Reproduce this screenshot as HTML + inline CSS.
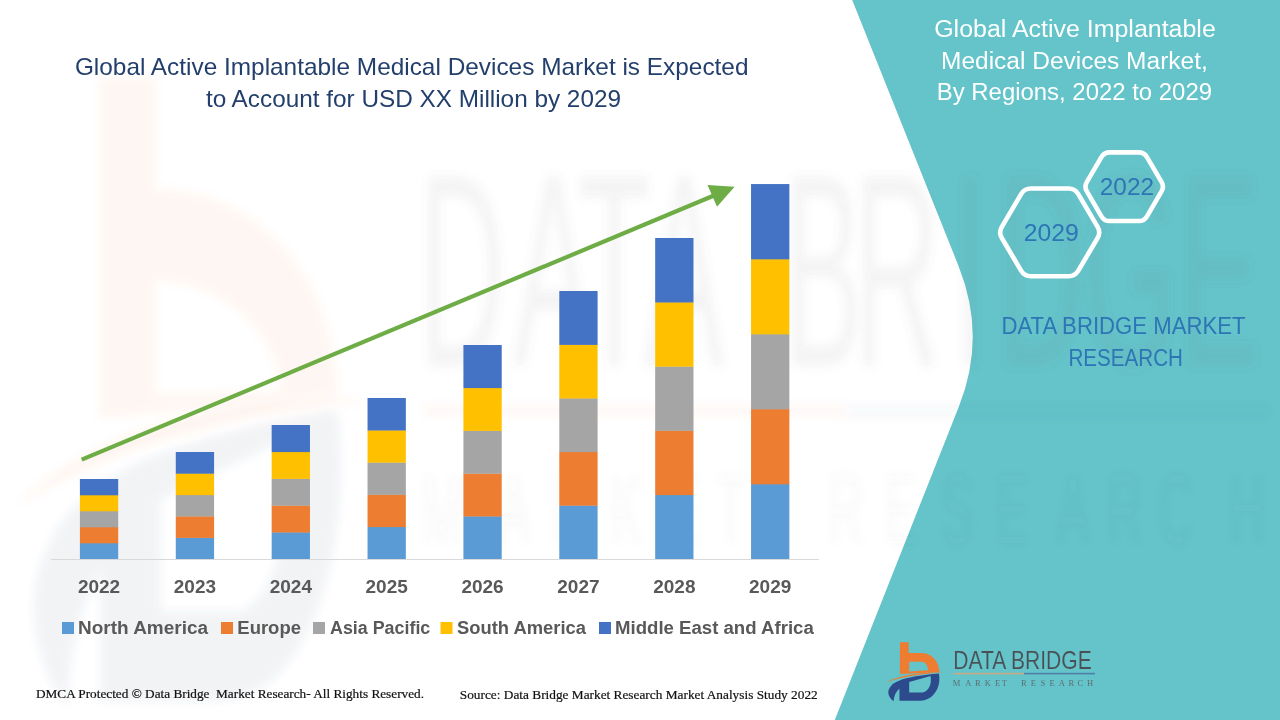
<!DOCTYPE html>
<html><head><meta charset="utf-8">
<style>
html,body{margin:0;padding:0;background:#fff;}
body{width:1280px;height:720px;overflow:hidden;position:relative;}
svg{position:absolute;left:0;top:0;display:block;}
text{font-family:"Liberation Sans",sans-serif;}
text.serif,.serif text{font-family:"Liberation Serif",serif;}
</style></head><body>
<svg width="1280" height="720" viewBox="0 0 1280 720">
<defs>
<filter id="wmblur" x="-20%" y="-20%" width="140%" height="140%"><feGaussianBlur stdDeviation="5"/></filter>
</defs>
<rect x="0" y="0" width="1280" height="720" fill="#ffffff"/>

<path d="M852.2,0 L1280,0 L1280,720 L834.8,720 L958.9,406.4 Q986.7,336.4 958.7,266.4 Z" fill="#64C4CA"/>

<!-- watermark -->
<g filter="url(#wmblur)">
<g transform="translate(-5265.5,-6735.8) scale(5.967,10.61)">
<g transform="translate(880,636) scale(0.09722)">
<path fill="#F07D3C" opacity="0.085" d="M55,478 C200,400 420,372 668,376 C420,390 220,420 55,478 Z"/>
<path fill="#3A4F7A" opacity="0.075" fill-rule="evenodd" d="M140,672 C78,622 66,560 118,508 C180,450 300,415 605,386 C622,462 604,560 532,622 C482,662 432,667 380,667 L200,667 L200,540 C162,572 142,622 140,672 Z M300,472 L520,412 C532,482 512,562 442,582 L300,582 Z"/>
</g>
<rect x="953.5" y="673.1" width="70.5" height="1.0" fill="#EE7D32" opacity="0.05"/>
<rect x="1024" y="673.1" width="71" height="1.0" fill="#2C4A8C" opacity="0.035"/>
</g>
<path fill="#F07D3C" opacity="0.07" fill-rule="evenodd" d="M100,78 L155,78 L155,190 C240,186 335,262 337,396 L100,418 Z M155,280 C215,282 275,322 282,392 L155,394 Z"/>
<g fill="#707070" opacity="0.075"><text transform="translate(462,366) scale(0.46,1.06)" font-size="260" text-anchor="middle">D</text><text transform="translate(553,366) scale(0.46,1.06)" font-size="260" text-anchor="middle">A</text><text transform="translate(614,366) scale(0.46,1.06)" font-size="260" text-anchor="middle">T</text><text transform="translate(684,366) scale(0.46,1.06)" font-size="260" text-anchor="middle">A</text><text transform="translate(823,366) scale(0.46,1.06)" font-size="260" text-anchor="middle">B</text><text transform="translate(897,366) scale(0.46,1.06)" font-size="260" text-anchor="middle">R</text><text transform="translate(970,366) scale(0.46,1.06)" font-size="260" text-anchor="middle">I</text><text transform="translate(1041,366) scale(0.46,1.06)" font-size="260" text-anchor="middle">D</text><text transform="translate(1131,366) scale(0.46,1.06)" font-size="260" text-anchor="middle">G</text><text transform="translate(1219,366) scale(0.46,1.06)" font-size="260" text-anchor="middle">E</text><text transform="translate(442,544) scale(0.5,1.06)" font-size="95" text-anchor="middle" opacity="0.45">M</text><text transform="translate(514,544) scale(0.5,1.06)" font-size="95" text-anchor="middle" opacity="0.45">A</text><text transform="translate(569,544) scale(0.5,1.06)" font-size="95" text-anchor="middle" opacity="0.45">R</text><text transform="translate(626,544) scale(0.5,1.06)" font-size="95" text-anchor="middle" opacity="0.45">K</text><text transform="translate(685,544) scale(0.5,1.06)" font-size="95" text-anchor="middle" opacity="0.45">E</text><text transform="translate(731,544) scale(0.5,1.06)" font-size="95" text-anchor="middle" opacity="0.45">T</text><text transform="translate(846,544) scale(0.5,1.06)" font-size="95" text-anchor="middle" opacity="0.45">R</text><text transform="translate(901,544) scale(0.5,1.06)" font-size="95" text-anchor="middle" opacity="0.45">E</text><text transform="translate(957,544) scale(0.5,1.06)" font-size="95" text-anchor="middle" opacity="0.45">S</text><text transform="translate(1012,544) scale(0.5,1.06)" font-size="95" text-anchor="middle" opacity="0.45">E</text><text transform="translate(1073,544) scale(0.5,1.06)" font-size="95" text-anchor="middle" opacity="0.45">A</text><text transform="translate(1125,544) scale(0.5,1.06)" font-size="95" text-anchor="middle" opacity="0.45">R</text><text transform="translate(1176,544) scale(0.5,1.06)" font-size="95" text-anchor="middle" opacity="0.45">C</text><text transform="translate(1247,544) scale(0.5,1.06)" font-size="95" text-anchor="middle" opacity="0.45">H</text></g>
</g>

<g fill="#233F6C" font-size="24">
<text x="74.9" y="74.7" textLength="673.6" lengthAdjust="spacingAndGlyphs">Global Active Implantable Medical Devices Market is Expected</text>
<text x="205.9" y="106.8" textLength="415.1" lengthAdjust="spacingAndGlyphs">to Account for USD XX Million by 2029</text>
</g>

<rect x="51" y="559" width="768" height="1" fill="#D9D9D9"/>

<g>
<rect x="79.90" y="543.00" width="38.3" height="16.00" fill="#5B9BD5"/>
<rect x="79.90" y="527.00" width="38.3" height="16.30" fill="#ED7D31"/>
<rect x="79.90" y="511.00" width="38.3" height="16.30" fill="#A5A5A5"/>
<rect x="79.90" y="495.00" width="38.3" height="16.30" fill="#FFC000"/>
<rect x="79.90" y="479.00" width="38.3" height="16.30" fill="#4472C4"/>
<rect x="175.78" y="537.60" width="38.3" height="21.40" fill="#5B9BD5"/>
<rect x="175.78" y="516.20" width="38.3" height="21.70" fill="#ED7D31"/>
<rect x="175.78" y="494.80" width="38.3" height="21.70" fill="#A5A5A5"/>
<rect x="175.78" y="473.40" width="38.3" height="21.70" fill="#FFC000"/>
<rect x="175.78" y="452.00" width="38.3" height="21.70" fill="#4472C4"/>
<rect x="271.66" y="532.20" width="38.3" height="26.80" fill="#5B9BD5"/>
<rect x="271.66" y="505.40" width="38.3" height="27.10" fill="#ED7D31"/>
<rect x="271.66" y="478.60" width="38.3" height="27.10" fill="#A5A5A5"/>
<rect x="271.66" y="451.80" width="38.3" height="27.10" fill="#FFC000"/>
<rect x="271.66" y="425.00" width="38.3" height="27.10" fill="#4472C4"/>
<rect x="367.54" y="526.80" width="38.3" height="32.20" fill="#5B9BD5"/>
<rect x="367.54" y="494.60" width="38.3" height="32.50" fill="#ED7D31"/>
<rect x="367.54" y="462.40" width="38.3" height="32.50" fill="#A5A5A5"/>
<rect x="367.54" y="430.20" width="38.3" height="32.50" fill="#FFC000"/>
<rect x="367.54" y="398.00" width="38.3" height="32.50" fill="#4472C4"/>
<rect x="463.42" y="516.20" width="38.3" height="42.80" fill="#5B9BD5"/>
<rect x="463.42" y="473.40" width="38.3" height="43.10" fill="#ED7D31"/>
<rect x="463.42" y="430.60" width="38.3" height="43.10" fill="#A5A5A5"/>
<rect x="463.42" y="387.80" width="38.3" height="43.10" fill="#FFC000"/>
<rect x="463.42" y="345.00" width="38.3" height="43.10" fill="#4472C4"/>
<rect x="559.30" y="505.40" width="38.3" height="53.60" fill="#5B9BD5"/>
<rect x="559.30" y="451.80" width="38.3" height="53.90" fill="#ED7D31"/>
<rect x="559.30" y="398.20" width="38.3" height="53.90" fill="#A5A5A5"/>
<rect x="559.30" y="344.60" width="38.3" height="53.90" fill="#FFC000"/>
<rect x="559.30" y="291.00" width="38.3" height="53.90" fill="#4472C4"/>
<rect x="655.18" y="494.80" width="38.3" height="64.20" fill="#5B9BD5"/>
<rect x="655.18" y="430.60" width="38.3" height="64.50" fill="#ED7D31"/>
<rect x="655.18" y="366.40" width="38.3" height="64.50" fill="#A5A5A5"/>
<rect x="655.18" y="302.20" width="38.3" height="64.50" fill="#FFC000"/>
<rect x="655.18" y="238.00" width="38.3" height="64.50" fill="#4472C4"/>
<rect x="751.06" y="484.01" width="38.3" height="74.99" fill="#5B9BD5"/>
<rect x="751.06" y="409.02" width="38.3" height="75.29" fill="#ED7D31"/>
<rect x="751.06" y="334.04" width="38.3" height="75.29" fill="#A5A5A5"/>
<rect x="751.06" y="259.05" width="38.3" height="75.29" fill="#FFC000"/>
<rect x="751.06" y="184.06" width="38.3" height="75.29" fill="#4472C4"/>
</g>

<g fill="#6EAD45">
<line x1="81.7" y1="459.6" x2="714" y2="195.5" stroke="#6EAD45" stroke-width="4.2"/>
<polygon points="707.5,185 734.6,186.7 717,206.7"/>
</g>

<g fill="#595959" font-size="17.5" font-weight="bold">
<text x="77.90" y="592.8" textLength="42.3" lengthAdjust="spacingAndGlyphs">2022</text>
<text x="173.78" y="592.8" textLength="42.3" lengthAdjust="spacingAndGlyphs">2023</text>
<text x="269.66" y="592.8" textLength="42.3" lengthAdjust="spacingAndGlyphs">2024</text>
<text x="365.54" y="592.8" textLength="42.3" lengthAdjust="spacingAndGlyphs">2025</text>
<text x="461.42" y="592.8" textLength="42.3" lengthAdjust="spacingAndGlyphs">2026</text>
<text x="557.30" y="592.8" textLength="42.3" lengthAdjust="spacingAndGlyphs">2027</text>
<text x="653.18" y="592.8" textLength="42.3" lengthAdjust="spacingAndGlyphs">2028</text>
<text x="749.06" y="592.8" textLength="42.3" lengthAdjust="spacingAndGlyphs">2029</text>
</g>

<g font-size="17.5" font-weight="bold" fill="#595959">
<rect x="62" y="622" width="12" height="12" fill="#5B9BD5"/>
<text x="78" y="634.3" textLength="130" lengthAdjust="spacingAndGlyphs">North America</text>
<rect x="221" y="622" width="12" height="12" fill="#ED7D31"/>
<text x="237.3" y="634.3" textLength="63.7" lengthAdjust="spacingAndGlyphs">Europe</text>
<rect x="313" y="622" width="12" height="12" fill="#A5A5A5"/>
<text x="330" y="634.3" textLength="100.3" lengthAdjust="spacingAndGlyphs">Asia Pacific</text>
<rect x="440.5" y="622" width="12" height="12" fill="#FFC000"/>
<text x="457" y="634.3" textLength="129" lengthAdjust="spacingAndGlyphs">South America</text>
<rect x="599" y="622" width="12" height="12" fill="#4472C4"/>
<text x="615" y="634.3" textLength="198.8" lengthAdjust="spacingAndGlyphs">Middle East and Africa</text>
</g>

<g fill="#111111" class="serif" stroke="#111111" stroke-width="0.2">
<text x="36" y="697.7" font-size="12.5" textLength="388" lengthAdjust="spacingAndGlyphs">DMCA Protected © Data Bridge&#160; Market Research- All Rights Reserved.</text>
<text x="459.8" y="699.3" font-size="13" textLength="357.9" lengthAdjust="spacingAndGlyphs">Source: Data Bridge Market Research Market Analysis Study 2022</text>
</g>

<g fill="#ffffff" font-size="23">
<text x="934.2" y="36.6" textLength="281.6" lengthAdjust="spacingAndGlyphs">Global Active Implantable</text>
<text x="941" y="68.9" textLength="266.8" lengthAdjust="spacingAndGlyphs">Medical Devices Market,</text>
<text x="936.8" y="100.1" textLength="275.2" lengthAdjust="spacingAndGlyphs">By Regions, 2022 to 2029</text>
</g>

<g fill="none" stroke="#ffffff" stroke-width="4.6">
<path d="M1001.81,238.00 Q998.50,232.40 1001.81,226.80 L1021.09,194.15 Q1024.40,188.55 1030.90,188.55 L1068.50,188.55 Q1075.00,188.55 1078.31,194.15 L1097.59,226.80 Q1100.90,232.40 1097.59,238.00 L1078.31,270.65 Q1075.00,276.25 1068.50,276.25 L1030.90,276.25 Q1024.40,276.25 1021.09,270.65 Z"/>
<path d="M1086.88,191.45 Q1084.10,186.70 1086.88,181.95 L1101.42,157.10 Q1104.20,152.35 1109.70,152.35 L1138.70,152.35 Q1144.20,152.35 1146.98,157.10 L1161.52,181.95 Q1164.30,186.70 1161.52,191.45 L1146.98,216.30 Q1144.20,221.05 1138.70,221.05 L1109.70,221.05 Q1104.20,221.05 1101.42,216.30 Z"/>
</g>
<g fill="#2E75B6" font-size="23">
<text x="1023.8" y="240.6" textLength="55.1" lengthAdjust="spacingAndGlyphs">2029</text>
<text x="1099.8" y="194.6" textLength="54.2" lengthAdjust="spacingAndGlyphs">2022</text>
<text x="1001.4" y="333.5" textLength="244.1" lengthAdjust="spacingAndGlyphs">DATA BRIDGE MARKET</text>
<text x="1068.4" y="365.5" textLength="114.6" lengthAdjust="spacingAndGlyphs">RESEARCH</text>
</g>

<g id="logo">
<g transform="translate(880,636) scale(0.09722)">
<path fill="#EE7D32" fill-rule="evenodd" d="M205,65 L295,65 L295,175 L420,175 C530,175 605,250 612,372 L205,392 Z M300,265 L420,265 C470,265 494,305 494,352 L300,366 Z"/>
<path fill="#EE7D32" d="M55,478 C200,400 420,372 668,376 C420,390 220,420 55,478 Z"/>
<path fill="#2C4A8C" fill-rule="evenodd" d="M140,672 C78,622 66,560 118,508 C180,450 300,415 605,386 C622,462 604,560 532,622 C482,662 432,667 380,667 L200,667 L200,540 C162,572 142,622 140,672 Z M300,472 L520,412 C532,482 512,562 442,582 L300,582 Z"/>
</g>
<text x="953.2" y="669.4" font-size="26" fill="#4A4F55" stroke="#64C4CA" stroke-width="0.15" textLength="138.5" lengthAdjust="spacingAndGlyphs">DATA BRIDGE</text>
<rect x="953.5" y="672.8" width="70.5" height="1.6" fill="#C9A886"/>
<rect x="1024" y="672.8" width="71" height="1.6" fill="#4F7FA6"/>
<g font-family="Liberation Serif" font-size="8.5" fill="#5C6166" text-anchor="middle" class="serif" opacity="0.85"><text x="956.5" y="685.8">M</text><text x="968.4" y="685.8">A</text><text x="977.8" y="685.8">R</text><text x="987.8" y="685.8">K</text><text x="997.5" y="685.8">E</text><text x="1004.4" y="685.8">T</text><text x="1023.75" y="685.8">R</text><text x="1033.4" y="685.8">E</text><text x="1042.75" y="685.8">S</text><text x="1052.1" y="685.8">E</text><text x="1061.9" y="685.8">A</text><text x="1071.25" y="685.8">R</text><text x="1080.25" y="685.8">C</text><text x="1090" y="685.8">H</text></g>
</g>
</svg>
</body></html>
